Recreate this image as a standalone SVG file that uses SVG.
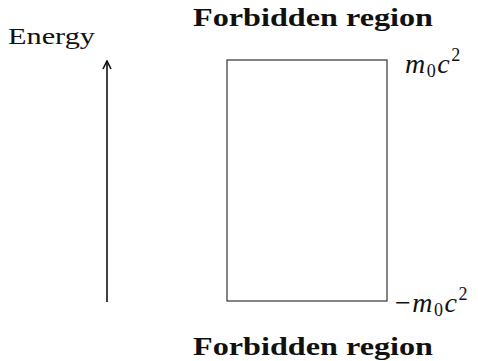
<svg xmlns="http://www.w3.org/2000/svg" width="478" height="361" viewBox="0 0 478 361">
<style>
.lbl{font-family:"Liberation Serif","DejaVu Serif",serif;fill:#111}
.bold{font-weight:bold;font-size:25px}
.math{font-style:italic;font-size:28px}
.sub{font-style:normal;font-size:18px}
.sup{font-style:normal;font-size:18px}
</style>
<defs>
<marker id="ah" viewBox="0 0 10 10" refX="9" refY="5" markerWidth="10" markerHeight="10" markerUnits="userSpaceOnUse" orient="auto">
<path d="M1,1 L9,5 L1,9" fill="none" stroke="#111" stroke-width="1.6"/>
</marker>
</defs>
<rect width="478" height="361" fill="#fff"/>
<g id="connectors">
<line x1="107" y1="302" x2="107" y2="61" stroke="#111" stroke-width="1.6" marker-end="url(#ah)"/>
</g>
<g id="energy-label"><text class="lbl" x="8" y="44" font-size="23" textLength="87" lengthAdjust="spacingAndGlyphs">Energy</text></g>
<g id="gap">
<rect x="227" y="60" width="160" height="241" fill="none" stroke="#333" stroke-width="1.2"/>
</g>
<g id="top-region"><text class="lbl bold" x="193" y="26" textLength="240" lengthAdjust="spacingAndGlyphs">Forbidden region</text></g>
<g id="bottom-region"><text class="lbl bold" x="193" y="355" textLength="240" lengthAdjust="spacingAndGlyphs">Forbidden region</text></g>
<g id="top-energy"><text class="lbl math" x="405" y="73" letter-spacing="1.5">m<tspan class="sub" dy="4">0</tspan><tspan dy="-4">c</tspan><tspan class="sup" dy="-12">2</tspan></text></g>
<g id="bottom-energy"><text class="lbl math" x="395" y="312" letter-spacing="1.5"><tspan font-style="normal">−</tspan>m<tspan class="sub" dy="4">0</tspan><tspan dy="-4">c</tspan><tspan class="sup" dy="-12">2</tspan></text></g>
</svg>
